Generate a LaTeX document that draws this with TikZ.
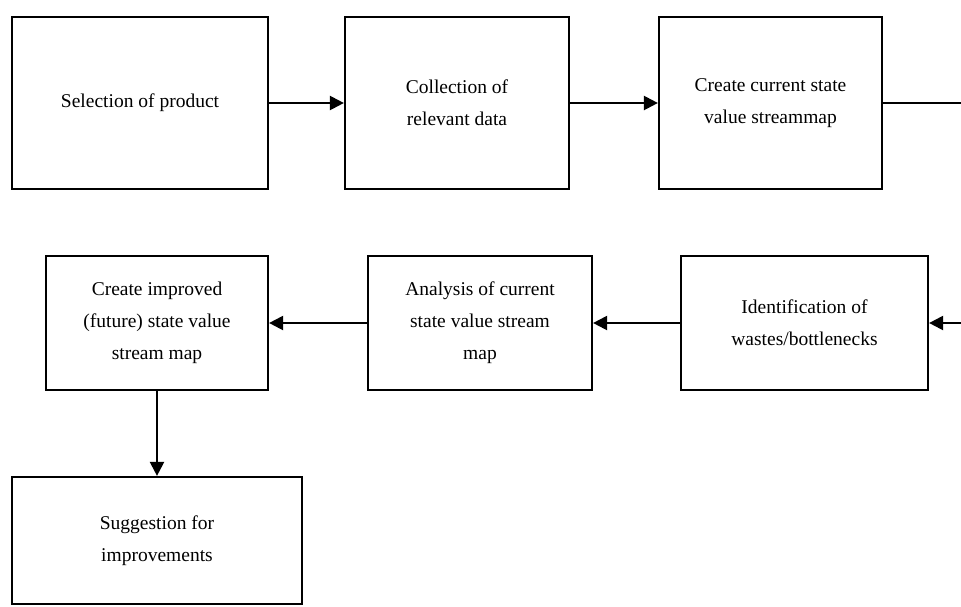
\documentclass[tikz,border=0pt]{standalone}
\usepackage{fontspec}
\setmainfont{Liberation Serif}
\usetikzlibrary{arrows.meta}
\begin{document}
\begin{tikzpicture}[x=1pt,y=-1pt,
  box/.style={draw=black,line width=2.2pt,fill=white,inner sep=0pt,align=center,
    font=\fontsize{19.5}{32}\selectfont},
  conn/.style={draw=black,line width=2.2pt,-{Triangle[length=14pt,width=14pt]}},
  plain/.style={draw=black,line width=2.2pt}]
\useasboundingbox (0,0) rectangle (961,606);
\node[box,minimum width=256pt,minimum height=172pt] (b1) at (140,103) {\raisebox{-4pt}{Selection of product}};
\node[box,minimum width=224pt,minimum height=172pt] (b2) at (457,103) {Collection of\\relevant data};
\node[box,minimum width=223pt,minimum height=172pt] (b3) at (770.5,103) {Create current state\\value streammap};
\node[box,minimum width=247pt,minimum height=134pt] (b4) at (804.5,323) {Identification of\\wastes/bottlenecks};
\node[box,minimum width=224pt,minimum height=134pt] (b5) at (480,323) {Analysis of current\\state value stream\\map};
\node[box,minimum width=222pt,minimum height=134pt] (b6) at (157,323) {Create improved\\(future) state value\\stream map};
\node[box,minimum width=290pt,minimum height=127pt] (b7) at (157,540.5) {Suggestion for\\improvements};
\coordinate (r1) at (961,103);
\coordinate (r2) at (961,323);
\draw[conn] (b1) -- (b2);
\draw[conn] (b2) -- (b3);
\draw[plain] (b3.east) -- (r1);
\draw[conn] (r2) -- (b4.east);
\draw[conn] (b4) -- (b5);
\draw[conn] (b5) -- (b6);
\draw[conn] (b6) -- (b7);
\end{tikzpicture}
\end{document}
